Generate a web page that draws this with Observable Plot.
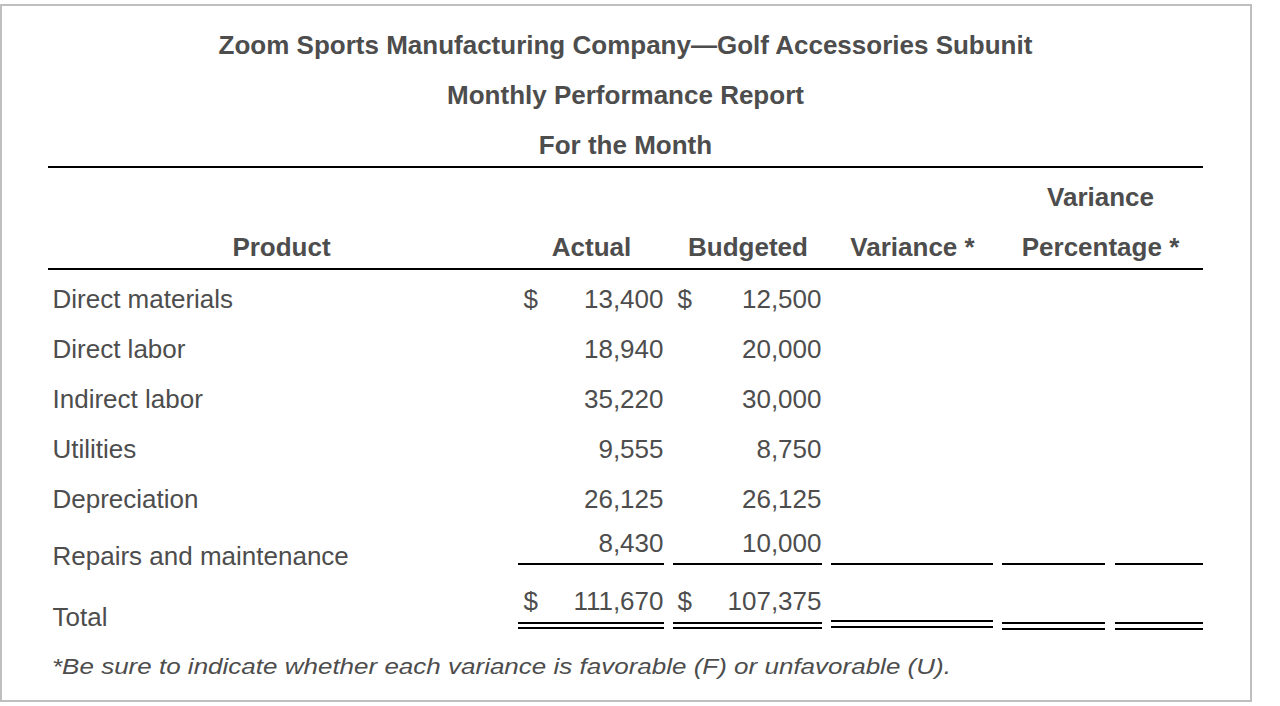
<!DOCTYPE html>
<html>
<head>
<meta charset="utf-8">
<script src="https://cdn.jsdelivr.net/npm/d3@7"></script>
<script src="https://cdn.jsdelivr.net/npm/@observablehq/plot@0.6"></script>
<style>
  html, body { margin: 0; padding: 0; background: #fff; }
  #page { position: relative; width: 1280px; height: 706px; overflow: hidden;
          font-family: "Liberation Sans", Arial, Helvetica, sans-serif; color: #4d4d4d; }
  #frame { position: absolute; left: 0; top: 4px; width: 1252px; height: 698px;
           border: 2px solid #bfbfbf; box-sizing: border-box; }
  #titles { position: absolute; left: 48px; width: 1155px; top: 20px; text-align: center;
            font-weight: bold; font-size: 26px; }
  #titles div { height: 50px; line-height: 50px; white-space: nowrap; }
  #chart { position: absolute; left: 0; top: 160px; }
  #note { position: absolute; left: 52px; top: 650px; font-style: italic; font-size: 26px;
          line-height: 30px; white-space: nowrap; transform-origin: 0 24px; transform: scaleY(0.85); }
</style>
</head>
<body>
<div id="page">
  <div id="frame"></div>
  <div id="titles"></div>
  <div id="chart"></div>
  <div id="note"></div>
</div>
<script>
// ---- data ----
const titleLines = [
  "Zoom Sports Manufacturing Company\u2014Golf Accessories Subunit",
  "Monthly Performance Report",
  "For the Month"
];
const headerTop = ["Variance"];
const headerBottom = ["Product", "Actual", "Budgeted", "Variance *", "Percentage *"];
const products = ["Direct materials", "Direct labor", "Indirect labor", "Utilities", "Depreciation", "Repairs and maintenance"];
const actual = [13400, 18940, 35220, 9555, 26125, 8430];
const budgeted = [12500, 20000, 30000, 8750, 26125, 10000];
const totalLabel = "Total";
const totals = [111670, 107375];
const footnote = "*Be sure to indicate whether each variance is favorable (F) or unfavorable (U).";

// ---- layout (column spans in px of the table) ----
const span = {
  prod: [48, 514], actual: [518, 664], budget: [673, 822],
  variance: [831, 993], pct: [1002, 1105], fu: [1115, 1203], pctHead: [997, 1203]
};
const mid = k => (span[k][0] + span[k][1]) / 2;
const headCols = ["prod", "actual", "budget", "variance", "pctHead"];

// ---- titles and footnote ----
const tdiv = document.getElementById("titles");
titleLines.forEach(t => { const d = document.createElement("div"); d.textContent = t; tdiv.appendChild(d); });
document.getElementById("note").textContent = footnote;

// ---- table data ----
const rowKeys = ["h1", "h2", ...products, totalLabel];
const rows = products.map((p, i) => ({product: p, actual: actual[i], budgeted: budgeted[i]}));
const regular = rows.slice(0, 5);
const repairs = rows.slice(5);
const totalRow = [{product: totalLabel, actual: totals[0], budgeted: totals[1]}];
const dollarRows = [rows[0]];
const fmt = d3.format(",");
const headers = headerBottom.map((t, i) => ({text: t, col: headCols[i], row: "h2"}))
  .concat(headerTop.map(t => ({text: t, col: "pctHead", row: "h1"})));
const segs = ["actual", "budget", "variance", "pct", "fu"].map(c => ({col: c, x1: span[c][0], x2: span[c][1]}));

const ink = "#4d4d4d";
const font = "Liberation Sans, Arial, Helvetica, sans-serif";
const base = {fill: ink, fontSize: 26, fontFamily: font, lineAnchor: "bottom"};
const rule = {stroke: "#000", strokeWidth: 2, shapeRendering: "crispEdges"};

function rowMarks(data, labelDy, numDy, withDollar) {
  const m = [
    Plot.text(data, {...base, x: () => span.prod[0] + 4, y: "product", text: "product", textAnchor: "start", dy: labelDy}),
    Plot.text(data, {...base, x: () => span.actual[1] - 1, y: "product", text: d => fmt(d.actual), textAnchor: "end", dy: numDy}),
    Plot.text(data, {...base, x: () => span.budget[1] - 1, y: "product", text: d => fmt(d.budgeted), textAnchor: "end", dy: numDy})
  ];
  if (withDollar) {
    m.push(Plot.text(withDollar, {...base, x: () => span.actual[0] + 5, y: "product", text: () => "$", textAnchor: "start", dy: numDy}));
    m.push(Plot.text(withDollar, {...base, x: () => span.budget[0] + 4, y: "product", text: () => "$", textAnchor: "start", dy: numDy}));
  }
  return m;
}

const lastItem = products[products.length - 1];
const segA = segs.filter(s => s.col === "actual" || s.col === "budget");
const segV = segs.filter(s => s.col === "variance");
const segP = segs.filter(s => s.col === "pct" || s.col === "fu");

const chart = Plot.plot({
  width: 1280,
  height: 480,
  margin: 0,
  x: {type: "linear", domain: [0, 1280], range: [0, 1280], axis: null},
  y: {type: "point", domain: rowKeys, range: [47, 447], padding: 0, axis: null},
  style: {background: "transparent", overflow: "visible", fontFamily: font},
  marks: [
    // header rules
    Plot.ruleY(["h1"], {...rule, x1: span.prod[0], x2: span.fu[1], dy: -40.5}),
    Plot.ruleY(["h2"], {...rule, x1: span.prod[0], x2: span.fu[1], dy: 11.5}),
    // headers
    Plot.text(headers, {...base, x: d => mid(d.col), y: "row", text: "text", textAnchor: "middle", fontWeight: "bold", dy: -2}),
    // body rows
    ...rowMarks(regular, 0, 0, dollarRows),
    ...rowMarks(repairs, 7, -6, null),
    ...rowMarks(totalRow, 18, 2, totalRow),
    // single underline under last item
    Plot.ruleY(segs, {...rule, x1: "x1", x2: "x2", y: () => lastItem, dy: 6.5}),
    // double underline under total
    Plot.ruleY(segA, {...rule, x1: "x1", x2: "x2", y: () => totalLabel, dy: 15.5}),
    Plot.ruleY(segA, {...rule, x1: "x1", x2: "x2", y: () => totalLabel, dy: 20.5}),
    Plot.ruleY(segP, {...rule, x1: "x1", x2: "x2", y: () => totalLabel, dy: 15.5}),
    Plot.ruleY(segP, {...rule, x1: "x1", x2: "x2", y: () => totalLabel, dy: 21.5}),
    Plot.ruleY(segV, {...rule, x1: "x1", x2: "x2", y: () => totalLabel, dy: 13.5}),
    Plot.ruleY(segV, {...rule, x1: "x1", x2: "x2", y: () => totalLabel, dy: 19.5})
  ]
});
document.getElementById("chart").appendChild(chart);
</script>
</body>
</html>
